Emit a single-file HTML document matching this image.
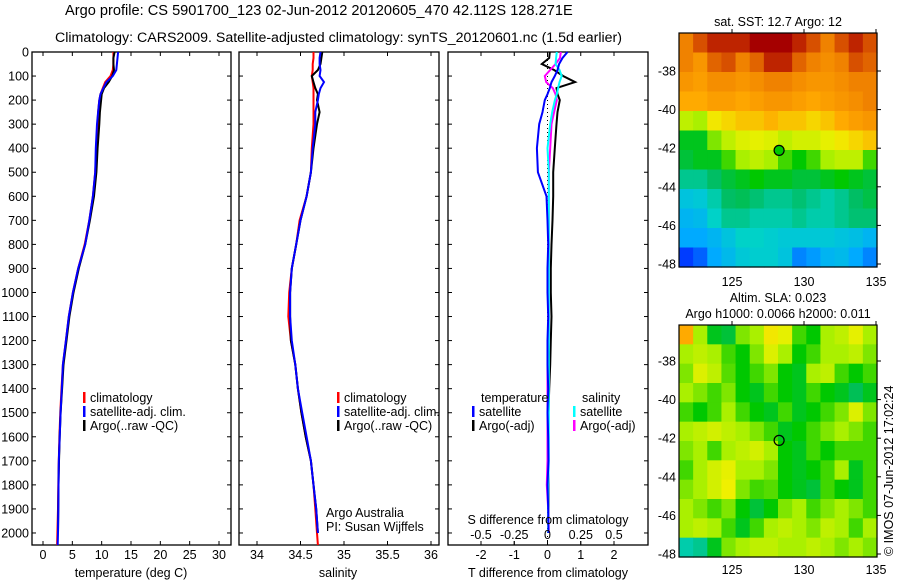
<!DOCTYPE html>
<html><head><meta charset="utf-8"><style>
html,body{margin:0;padding:0;background:#fff;}
svg{display:block;font-family:"Liberation Sans",sans-serif;}
text{font-size:12.5px;fill:#000;}
</style></head><body>
<svg id="fig" width="900" height="580" viewBox="0 0 900 580" xmlns="http://www.w3.org/2000/svg">
<text x="65" y="15" style="font-size:14.6px">Argo profile: CS 5901700_123 02-Jun-2012 20120605_470 42.112S 128.271E</text>
<text x="55" y="42" style="font-size:14.2px">Climatology: CARS2009. Satellite-adjusted climatology: synTS_20120601.nc (1.5d earlier)</text>
<g id="p1"></g>
<g id="p2"></g>
<g id="p3"></g>
<g id="m1"></g>
<g id="m2"></g>
<text x="0" y="0" transform="translate(893,556) rotate(-90)">© IMOS 07-Jun-2012 17:02:24</text>
</svg>
<script>
const depths=[0,25,50,75,100,125,150,175,200,250,300,400,500,600,700,800,900,1000,1100,1200,1300,1400,1500,1600,1700,1800,1900,2000,2050];
const tempClim=[12.0,12.0,12.0,11.9,11.5,10.6,10.2,9.8,9.6,9.4,9.3,9.1,8.9,8.5,7.9,7.1,6.0,5.1,4.4,3.9,3.4,3.15,2.95,2.8,2.7,2.6,2.55,2.45,2.4];
const tempSat=[12.8,12.7,12.6,12.5,11.9,10.8,10.3,9.8,9.6,9.4,9.2,9.0,8.9,8.5,7.9,7.2,6.0,5.1,4.4,3.9,3.4,3.2,3.0,2.85,2.7,2.65,2.6,2.55,2.5];
const tempArgo=[12.2,12.0,12.0,12.1,11.8,11.2,10.4,10.0,9.9,9.7,9.6,9.3,9.1,8.7,8.0,7.2,6.1,5.2,4.5,4.0,3.5,3.25,3.0,2.85,2.72,2.65,2.6,2.55,null];
const salClim=[34.65,34.65,34.64,34.64,34.63,34.64,34.65,34.65,34.65,34.65,34.65,34.63,34.62,34.57,34.49,34.45,34.40,34.37,34.36,34.39,34.44,34.47,34.51,34.56,34.62,34.65,34.67,34.69,34.70];
const salSat=[34.73,34.72,34.72,34.73,34.72,34.77,34.73,34.71,34.70,34.67,34.67,34.64,34.62,34.57,34.50,34.45,34.40,34.38,34.38,34.40,34.44,34.47,34.52,34.57,34.62,34.65,34.68,34.70,null];
const salArgo=[34.75,34.74,34.73,34.70,34.63,34.65,34.67,34.70,34.69,34.72,34.69,34.65,34.62,34.57,34.50,34.45,34.40,34.38,34.38,34.39,34.44,34.47,34.51,34.56,34.62,34.65,34.68,34.70,null];
const tDiffSat=[0.6,0.45,0.35,0.3,0.22,0.12,0.07,0.0,-0.08,-0.15,-0.25,-0.32,-0.29,-0.03,0.0,0.02,0.0,0.0,0.02,0.0,0.0,0.02,0.0,0.02,0.03,0.0,0.02,0.03,null];
const tDiffArgo=[0.07,0.05,-0.17,0.2,0.47,0.83,0.27,0.3,0.37,0.3,0.27,0.22,0.17,0.17,0.15,0.12,0.1,0.1,0.12,0.1,0.08,0.05,0.03,0.03,0.03,0.03,0.03,0.03,null];
const sDiffSat=[0.07,0.065,0.06,0.09,0.107,0.09,0.08,0.07,0.056,0.035,0.02,0.0,0.01,0.01,0.01,0.01,0.01,0.01,0.01,0.01,0.01,0.01,0.01,0.01,0.01,0.005,0.005,0.005,null];
const sDiffArgo=[0.1,0.094,0.06,0.02,-0.02,-0.01,0.04,0.06,0.07,0.05,0.03,0.02,0.01,0.01,0.01,0.01,0.01,0.01,0.01,0.01,0.0,0.0,0.0,0.0,0.0,-0.005,0.005,0.01,null];
const depthTicks=[0,100,200,300,400,500,600,700,800,900,1000,1100,1200,1300,1400,1500,1600,1700,1800,1900,2000];
const tempTicks=[0,5,10,15,20,25,30];
const salTicks=[34,34.5,35,35.5,36];
const tDiffTicks=[-2,-1,0,1,2];
const sDiffTicks=[-0.5,-0.25,0,0.25,0.5];
const sDiffTickLabels=["-0.5","-0.25","0","0.25","0.5"];
const lonTicks=[125,130,135];
const latTicks=[-38,-40,-42,-44,-46,-48];
const sstGrid=[
[0.85,0.9,0.95,0.95,0.95,1,1,1,0.95,0.9,0.85,0.9,0.95,0.9],
[0.85,0.8,0.88,0.9,0.85,0.88,0.95,0.95,0.88,0.85,0.82,0.85,0.9,0.88],
[0.8,0.78,0.82,0.82,0.8,0.82,0.85,0.85,0.82,0.8,0.8,0.82,0.85,0.85],
[0.75,0.75,0.78,0.78,0.76,0.78,0.8,0.8,0.78,0.76,0.78,0.8,0.82,0.85],
[0.62,0.6,0.68,0.7,0.72,0.72,0.74,0.72,0.72,0.7,0.72,0.75,0.78,0.8],
[0.5,0.5,0.58,0.62,0.65,0.66,0.65,0.62,0.64,0.64,0.66,0.68,0.7,0.72],
[0.48,0.5,0.5,0.55,0.6,0.62,0.6,0.55,0.52,0.55,0.6,0.62,0.62,0.55],
[0.42,0.42,0.45,0.48,0.5,0.52,0.5,0.5,0.48,0.48,0.5,0.52,0.5,0.48],
[0.35,0.36,0.4,0.45,0.46,0.44,0.42,0.42,0.44,0.42,0.4,0.42,0.45,0.47],
[0.32,0.33,0.38,0.42,0.42,0.4,0.4,0.4,0.42,0.4,0.4,0.42,0.44,0.44],
[0.3,0.3,0.32,0.35,0.38,0.38,0.37,0.36,0.36,0.36,0.36,0.35,0.34,0.32],
[0.15,0.2,0.3,0.33,0.36,0.37,0.37,0.35,0.25,0.28,0.32,0.33,0.3,0.25]];
const slaGrid=[
[0.75,0.6,0.5,0.48,0.58,0.6,0.68,0.66,0.55,0.52,0.6,0.62,0.66,0.6],
[0.6,0.62,0.6,0.55,0.52,0.58,0.65,0.6,0.52,0.55,0.6,0.6,0.62,0.58],
[0.58,0.65,0.62,0.56,0.52,0.55,0.58,0.52,0.5,0.6,0.62,0.55,0.52,0.55],
[0.6,0.58,0.55,0.58,0.52,0.5,0.55,0.52,0.5,0.55,0.52,0.5,0.46,0.5],
[0.55,0.52,0.55,0.6,0.55,0.52,0.5,0.55,0.5,0.52,0.55,0.58,0.65,0.58],
[0.6,0.62,0.64,0.62,0.6,0.58,0.55,0.5,0.52,0.55,0.58,0.6,0.58,0.55],
[0.58,0.6,0.55,0.6,0.62,0.64,0.6,0.52,0.5,0.55,0.52,0.55,0.55,0.55],
[0.55,0.6,0.64,0.66,0.6,0.6,0.58,0.52,0.5,0.52,0.55,0.6,0.5,0.55],
[0.58,0.6,0.64,0.67,0.58,0.55,0.56,0.52,0.5,0.48,0.55,0.52,0.5,0.55],
[0.6,0.58,0.55,0.58,0.52,0.48,0.52,0.58,0.6,0.55,0.58,0.6,0.58,0.55],
[0.6,0.62,0.6,0.55,0.5,0.55,0.6,0.62,0.6,0.58,0.62,0.6,0.55,0.6],
[0.4,0.42,0.5,0.58,0.6,0.62,0.62,0.6,0.6,0.62,0.6,0.58,0.6,0.58]];
const argoLon=128.271, argoLat=-42.112;

const NS="http://www.w3.org/2000/svg";
function mk(parent,tag,attrs){const e=document.createElementNS(NS,tag);for(const k in attrs)e.setAttribute(k,attrs[k]);parent.appendChild(e);return e;}
const yTop=52,yBot=545;
const yD=d=>yTop+(d/2050)*(yBot-yTop);
function lin(d0,d1,r0,r1){return v=>r0+(v-d0)/(d1-d0)*(r1-r0);}

function panel(g,x0,x1,xs,ticks,labels,showDepth){
  const r=mk(g,'rect',{x:x0,y:yTop,width:x1-x0,height:yBot-yTop,fill:'none',stroke:'#000','stroke-width':1.3});
  
  
  depthTicks.forEach(d=>{
    const y=yD(d);
    mk(g,'line',{x1:x0,x2:x0+4,y1:y,y2:y,stroke:'#000'});
    mk(g,'line',{x1:x1-4,x2:x1,y1:y,y2:y,stroke:'#000'});
    if(showDepth){const t=mk(g,'text',{x:29,y:y+4.5,'text-anchor':'end'});t.textContent=d;
      
      }
  });
  ticks.forEach((v,i)=>{
    const x=xs(v);
    mk(g,'line',{x1:x,x2:x,y1:yBot,y2:yBot-4,stroke:'#000'});
    mk(g,'line',{x1:x,x2:x,y1:yTop,y2:yTop+4,stroke:'#000'});
    if(labels){const t=mk(g,'text',{x:x,y:yBot+14,'text-anchor':'middle'});t.textContent=labels[i];
      
      }
  });
}
function line(g,xs,vals,color,name,w){
  let pts=[];
  vals.forEach((v,i)=>{if(v!==null)pts.push(xs(v).toFixed(1)+','+yD(depths[i]).toFixed(1));});
  const p=mk(g,'polyline',{points:pts.join(' '),fill:'none',stroke:color,'stroke-width':w||2,'stroke-linejoin':'miter'});
  
  
}
function legend(g,x,y,color,label,name){
  mk(g,'rect',{x:x,y:y-10,width:2.5,height:11,fill:color});
  const t=mk(g,'text',{x:x+7,y:y});t.textContent=label;
  
  
}
function txt(g,x,y,s,name,anchor){const t=mk(g,'text',{x:x,y:y,'text-anchor':anchor||'start'});t.textContent=s;
  
  return t;}

const p1=document.getElementById('p1');
const xT=lin(0,30,43,219);
panel(p1,32,231,xT,tempTicks,tempTicks,true);
line(p1,xT,tempClim,'#f00','temp-climatology-line');
line(p1,xT,tempArgo,'#000','temp-argo-line');
line(p1,xT,tempSat,'#00f','temp-satellite-line');
txt(p1,131,577,'temperature (deg C)','x-axis-title','middle');
legend(p1,83,402,'#f00','climatology','legend-climatology');
legend(p1,83,416,'#00f','satellite-adj. clim.','legend-satellite');
legend(p1,83,430,'#000','Argo(..raw -QC)','legend-argo');

const p2=document.getElementById('p2');
const xS=lin(34,36,257,431);
panel(p2,239,439,xS,salTicks,["34","34.5","35","35.5","36"],false);
line(p2,xS,salClim,'#f00','sal-climatology-line');
line(p2,xS,salArgo,'#000','sal-argo-line');
line(p2,xS,salSat,'#00f','sal-satellite-line');
txt(p2,338,577,'salinity','x-axis-title','middle');
legend(p2,337,402,'#f00','climatology','legend-climatology');
legend(p2,337,416,'#00f','satellite-adj. clim.','legend-satellite');
legend(p2,337,430,'#000','Argo(..raw -QC)','legend-argo');
txt(p2,326,517,'Argo Australia','credit-line-1');
txt(p2,326,531,'PI: Susan Wijffels','credit-line-2');

const p3=document.getElementById('p3');
const xTd=lin(-2,2,481,614);
const xSd=lin(-0.5,0.5,481,614);
panel(p3,448,648,xTd,tDiffTicks,tDiffTicks,false);
mk(p3,'line',{x1:xTd(0),x2:xTd(0),y1:yTop,y2:yBot,stroke:'#000','stroke-dasharray':'1,3'});
line(p3,xTd,tDiffArgo,'#000','t-diff-argo-line');
line(p3,xSd,sDiffArgo,'#f0f','s-diff-argo-line');
line(p3,xSd,sDiffSat,'#0ff','s-diff-satellite-line');
line(p3,xTd,tDiffSat,'#00f','t-diff-satellite-line');
sDiffTicks.forEach((v,i)=>{const x=xSd(v);mk(p3,'line',{x1:x,x2:x,y1:yBot,y2:yBot-4,stroke:'#000'});
  txt(p3,x,539,sDiffTickLabels[i],'s-tick-label','middle');});
txt(p3,548,524,'S difference from climatology','s-axis-title','middle');
txt(p3,548,577,'T difference from climatology','t-axis-title','middle');
txt(p3,481,402,'temperature','legend-temperature-header');
txt(p3,582,402,'salinity','legend-salinity-header');
legend(p3,472,416,'#00f','satellite','legend-t-satellite');
legend(p3,472,430,'#000','Argo(-adj)','legend-t-argo');
legend(p3,573,416,'#0ff','satellite','legend-s-satellite');
legend(p3,573,430,'#f0f','Argo(-adj)','legend-s-argo');

const stops=[[0,[0,0,140]],[0.15,[0,60,255]],[0.3,[0,170,255]],[0.38,[0,210,200]],[0.45,[0,190,100]],[0.52,[0,200,0]],[0.6,[170,240,0]],[0.67,[240,240,0]],[0.75,[255,170,0]],[0.85,[240,130,0]],[0.93,[200,50,0]],[1,[165,0,0]]];
function cmap(v){for(let i=1;i<stops.length;i++){if(v<=stops[i][0]){const a=stops[i-1],b=stops[i],t=(v-a[0])/(b[0]-a[0]);
  return 'rgb('+a[1].map((c,k)=>Math.round(c+t*(b[1][k]-c))).join(',')+')';}}return 'rgb(165,0,0)';}

function map(g,grid,x0,x1,y0,y1,latMap,titleLines,xlabY){
  const lonS=lin(125,135,732,876);
  const rows=grid.length,cols=grid[0].length;
  const cw=(x1-x0)/cols,ch=(y1-y0)/rows;
  grid.forEach((row,r)=>row.forEach((v,c)=>{
    const e=mk(g,'rect',{x:(x0+c*cw).toFixed(2),y:(y0+r*ch).toFixed(2),width:(cw+0.6).toFixed(2),height:(ch+0.6).toFixed(2),fill:cmap(v)});
    
    
  }));
  mk(g,'rect',{x:x0,y:y0,width:x1-x0,height:y1-y0,fill:'none',stroke:'#000','stroke-width':1.2});
  lonTicks.forEach(v=>{const x=lonS(v);mk(g,'line',{x1:x,x2:x,y1:y0,y2:y0-4,stroke:'#000'});
    txt(g,x,xlabY,String(v),'lon-tick-label','middle');});
  latTicks.forEach(v=>{const y=latMap(v);mk(g,'line',{x1:x1,x2:x1+4,y1:y,y2:y,stroke:'#000'});
    txt(g,676,y+4.5,String(v),'lat-tick-label','end');});
  const c=mk(g,'circle',{cx:lonS(argoLon),cy:latMap(argoLat),r:5,fill:'none',stroke:'#000','stroke-width':1.2});
  
  
  titleLines.forEach(l=>txt(g,778,l[1],l[0],'map-title','middle'));
}
map(document.getElementById('m1'),sstGrid,679,877,33,267,lin(-38,-48,71,264),[['sat. SST: 12.7 Argo: 12',26]],286);
map(document.getElementById('m2'),slaGrid,679,877,325,557,lin(-38,-48,361,554),[['Altim. SLA: 0.023',302],['Argo h1000: 0.0066 h2000: 0.011',318]],574);
const cm=document.querySelector('#m1 circle');cm.setAttribute('fill','rgb(0,200,0)');
</script>
</body></html>
